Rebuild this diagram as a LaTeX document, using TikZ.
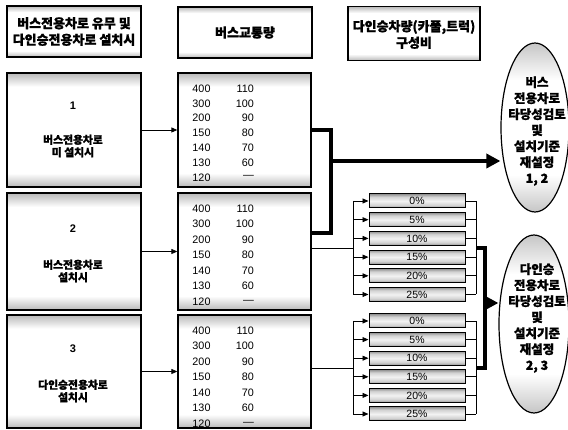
\documentclass[tikz,border=0pt]{standalone}
\usepackage{fontspec}
\setmainfont{Liberation Sans}
\newfontfamily\kr{Noto Sans CJK KR}[BoldFeatures={FakeBold=1.2}]
\usetikzlibrary{arrows.meta,shapes.geometric,calc}
\pgfdeclareverticalshading{bands}{100bp}{color(0bp)=(gray!55); color(25bp)=(gray!55); color(31bp)=(white); color(69bp)=(white); color(75bp)=(gray!55); color(100bp)=(gray!55)}
\pgfdeclareverticalshading{pbands}{100bp}{color(0bp)=(gray!85); color(25bp)=(gray!85); color(35bp)=(gray!35); color(50bp)=(gray!10); color(65bp)=(gray!35); color(75bp)=(gray!85); color(100bp)=(gray!85)}
\pgfdeclareverticalshading{ebands}{100bp}{color(0bp)=(gray!45); color(25bp)=(gray!45); color(36bp)=(white); color(64bp)=(white); color(75bp)=(gray!45); color(100bp)=(gray!45)}
\begin{document}
\begin{tikzpicture}[x=1pt,y=-1pt,
  box/.style={draw=black, line width=1.3pt, shading=bands, inner sep=0pt, minimum width=134pt},
  hdr/.style={font=\kr\bfseries\fontsize{13}{16.5}\selectfont, align=center, inner sep=0pt},
  ltxt/.style={font=\kr\bfseries\fontsize{10.8}{12.5}\selectfont, align=center, inner sep=0pt},
  lnum/.style={font=\bfseries\fontsize{11}{12}\selectfont, inner sep=0pt},
  num/.style={font=\fontsize{10.8}{12}\selectfont, inner sep=0pt},
  pbox/.style={draw=black, line width=1pt, shading=pbands, minimum width=96pt, minimum height=14pt, inner sep=0pt, font=\fontsize{10.5}{12}\selectfont},
  ell/.style={ellipse, draw=black, line width=1.2pt, shading=ebands, minimum width=68pt, minimum height=170pt, inner sep=0pt},
  etxt/.style={font=\kr\bfseries\fontsize{12.5}{16}\selectfont, align=center, inner sep=0pt},
  thin/.style={line width=0.8pt},
  tarr/.style={line width=0.8pt, -{Triangle[length=6pt,width=5pt]}},
  thk/.style={line width=4pt, line join=miter},
  tkarr/.style={line width=4pt, -{Triangle[length=14pt,width=14pt]}}]
\useasboundingbox (0,0) rectangle (568,430);

% header row
\node[box, minimum height=51pt] (H1) at (74,31.5) {};
\node[hdr] (H1t) at (H1.center) {버스전용차로 유무 및\\다인승전용차로 설치시};
\node[box, minimum height=51pt] (H2) at (245,32.5) {};
\node[hdr] (H2t) at (H2.center) {버스교통량};
\node[box, minimum width=132pt, minimum height=54pt] (H3) at (414,33.5) {};
\node[hdr] (H3t) at (414,34.5) {다인승차량(카풀,트럭)\\구성비};

% left boxes
\node[box, minimum height=114pt] (L1) at (74,130) {};
\node[box, minimum height=117pt] (L2) at (74,251.5) {};
\node[box, minimum height=113pt] (L3) at (74,371.5) {};
\node[lnum] (L1n) at (73,106) {1};
\node[ltxt] (L1t) at (73,146) {버스전용차로\\미 설치시};
\node[lnum] (L2n) at (73,229) {2};
\node[ltxt] (L2t) at (73,271) {버스전용차로\\설치시};
\node[lnum] (L3n) at (73,349) {3};
\node[ltxt] (L3t) at (73,391) {다인승전용차로\\설치시};

% middle boxes
\node[box, minimum width=133pt, minimum height=114pt] (M1) at (244.5,130) {};
\node[box, minimum width=133pt, minimum height=117pt] (M2) at (244.5,251.5) {};
\node[box, minimum width=133pt, minimum height=113pt] (M3) at (244.5,371.5) {};
\foreach \k/\t/\s in {1/73/14.8,2/193/15.5,3/315/15.5}{
  \foreach \a/\b [count=\r from 0] in {400/110,300/100,200/90,150/80,140/70,130/60,120/---}{
    \node[num] (N\k-\r-a) at (201.5,{\t+15.5+\s*\r}) {\a};
    \node[num, anchor=east] (N\k-\r-b) at (254,{\t+15.5+\s*\r}) {\b};
  }
}

% left -> middle arrows
\draw[tarr] (L1.east) -- (M1.west);
\draw[tarr] (L2.east) -- (M2.west);
\draw[tarr] (L3.east) -- (M3.west);

% ellipses
\node[ell, minimum height=169pt] (E1) at (535,127.5) {};
\node[etxt] (E1t) at (537,131) {버스\\전용차로\\타당성검토\\및\\설치기준\\재설정\\1, 2};
\node[ell, minimum width=70pt, minimum height=178pt] (E2) at (534,324) {};
\node[etxt] (E2t) at (537,318) {다인승\\전용차로\\타당성검토\\및\\설치기준\\재설정\\2, 3};

% thick bracket to ellipse 1
\coordinate (J1) at (331,161);
\draw[thk] (M1.east) -| (J1) |- ([yshift=18.5pt]M2.east);
\draw[tkarr] (J1) -- (E1.west |- J1);

% percent boxes
\foreach \i/\lab in {0/0,1/5,2/10,3/15,4/20,5/25}{
  \node[pbox] (P1\i) at (417,{201+18.7*\i}) {\lab\%};
  \node[pbox] (P2\i) at (417,{321+18.6*\i}) {\lab\%};
}

% brackets group 1
\coordinate (B1) at (353,248);
\coordinate (R1) at (476,248);
\draw[thin] ([yshift=3.5pt]M2.east) -- (B1);
\draw[thin] (B1 |- P10.west) -- (B1 |- P15.west);
\draw[thin] (R1 |- P10.east) -- (R1 |- P15.east);
\foreach \i in {0,...,5}{
  \draw[tarr] (B1 |- P1\i.west) -- (P1\i.west);
  \draw[thin] (P1\i.east) -- (R1 |- P1\i.east);
}
% brackets group 2
\coordinate (B2) at (353,368);
\coordinate (R2) at (476,368);
\draw[thin] (M3.east |- B2) -- (B2);
\draw[thin] (B2 |- P20.west) -- (B2 |- P25.west);
\draw[thin] (R2 |- P20.east) -- (R2 |- P25.east);
\foreach \i in {0,...,5}{
  \draw[tarr] (B2 |- P2\i.west) -- (P2\i.west);
  \draw[thin] (P2\i.east) -- (R2 |- P2\i.east);
}

% thick join to ellipse 2
\coordinate (K1) at (485,248);
\coordinate (K2) at (485,368);
\coordinate (K3) at (485,303);
\draw[thk] (R1) -- (K1) -- (K2) -- (R2);
\draw[tkarr] (K3) -- (E2.west |- K3);
\end{tikzpicture}
\end{document}
